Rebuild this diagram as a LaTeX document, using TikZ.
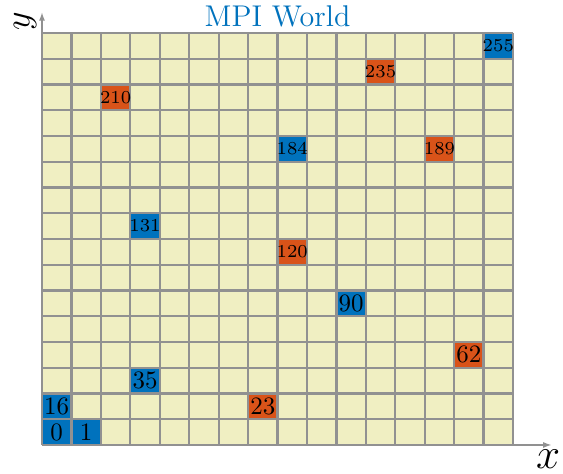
\documentclass[tikz,border=0pt]{standalone}
\usetikzlibrary{arrows.meta}
\definecolor{cellbg}{RGB}{240,239,194}
\definecolor{gridc}{RGB}{145,145,145}
\definecolor{mblue}{RGB}{0,114,189}
\definecolor{morange}{RGB}{217,83,25}
\begin{document}
\begin{tikzpicture}[x=11.776pt,y=10.3pt,
  gridline/.style={gridc,line width=0.9pt},
  axisline/.style={gridc,line width=0.9pt,-{Latex[length=3.5pt,width=2.4pt]}},
  ranklabel/.style={inner sep=0pt,text=black}]
\useasboundingbox (-16.8pt,-11.6pt) rectangle (208.4pt,178pt);
\fill[cellbg] (0,0) rectangle (16,16);
\foreach \n/\clr in {0/mblue,1/mblue,16/mblue,35/mblue,90/mblue,131/mblue,184/mblue,255/mblue,23/morange,62/morange,120/morange,189/morange,210/morange,235/morange}{
  \pgfmathtruncatemacro\cc{mod(\n,16)}
  \pgfmathtruncatemacro\rr{\n/16}
  \fill[\clr] (\cc,\rr) rectangle ++(1,1);
}
\foreach \i in {0,...,16}{
  \draw[gridline] (\i,0) -- (\i,16);
  \draw[gridline] (0,\i) -- (16,\i);
}
\foreach \n in {0,1,16,35,90,131,184,255,23,62,120,189,210,235}{
  \pgfmathtruncatemacro\cc{mod(\n,16)}
  \pgfmathtruncatemacro\rr{\n/16}
  \ifnum\n>99
    \node[ranklabel,font=\fontsize{7.3}{8}\selectfont] (rank\n) at (\cc+0.5,\rr+0.5) {\n};
  \else
    \node[ranklabel,font=\normalsize] (rank\n) at (\cc+0.5,\rr+0.5) {\n};
  \fi
}
\coordinate (origin) at (0,0);
\coordinate (xend) at (17.32,0);
\coordinate (yend) at (0,16.82);
\draw[axisline] (origin) -- (xend);
\draw[axisline] (origin) -- (yend);
\node (xlabel) at (17.19,-0.55) {\LARGE $x$};
\node[rotate=90,inner sep=0pt] (ylabel) at (-0.57,16.45) {\Large $y$};
\node[text=mblue,font=\large] (title) at (8,16.65) {MPI World};
\end{tikzpicture}
\end{document}
